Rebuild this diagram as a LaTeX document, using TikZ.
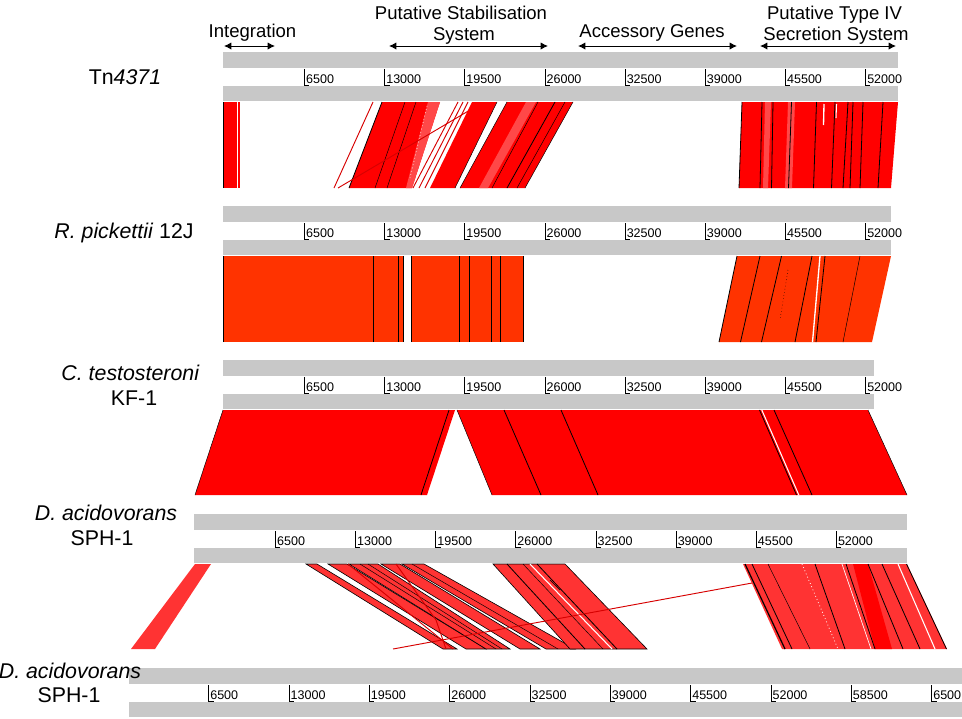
\documentclass[tikz,border=0pt]{standalone}
\usepackage{fontspec}
\setmainfont{Liberation Sans}
\usetikzlibrary{arrows.meta}
\definecolor{barg}{RGB}{200,200,200}
\definecolor{rA}{RGB}{255,0,0}
\definecolor{rL}{RGB}{255,72,72}
\definecolor{rO}{RGB}{255,51,0}
\definecolor{rB}{RGB}{255,51,51}
\definecolor{rD}{RGB}{215,0,0}
\tikzset{
 hdr/.style={font=\fontsize{13.9}{16}\selectfont, inner sep=0pt, anchor=base},
 lbl/.style={font=\fontsize{16}{18}\selectfont, inner sep=0pt, anchor=base},
 tk/.style={font=\fontsize{9.4}{11}\selectfont, inner sep=0pt, anchor=base west},
 tickln/.style={draw=black, line width=0.5pt},
 blk/.style={draw=black, line width=0.6pt},
 thinblk/.style={draw=black, line width=0.35pt},
 wht/.style={draw=white, line width=0.6pt},
 thinred/.style={draw=rD, line width=0.7pt},
 hdrarr/.style={draw=black, line width=0.75pt, {Latex[length=5.5pt,width=5.5pt]}-{Latex[length=5.5pt,width=5.5pt]}},
 stripe/.style={fill=rB, draw=black, line width=0.45pt},
}
\newcommand\trk[7]{%
 \fill[barg] (#2,#4) rectangle (#3,#4+16);
 \fill[barg] (#2,#4+34) rectangle (#3,#4+49);
 \foreach \k/\lab in {#7}{%
   \pgfmathsetmacro\tx{#5+#6*\k}%
   \draw[tickln] (\tx,#4+17) -- (\tx,#4+33) -- (\tx+5,#4+33);
   \node[tk] (#1\k) at (\tx+1.5,#4+31) {\lab};
 }%
}
\begin{document}
\begin{tikzpicture}[x=0.75pt,y=-0.75pt]
\useasboundingbox (0,0) rectangle (962,718);
\fill[white] (0,0) rectangle (962,718);

% ---------- header ----------
\node[hdr] (hInt) at (252.5,37.5) {Integration};
\node[hdr] (hPS1) at (461,19.5) {Putative Stabilisation};
\node[hdr] (hPS2) at (464,40) {System};
\node[hdr] (hAcc) at (652,37.5) {Accessory Genes};
\node[hdr] (hT41) at (834.5,19.5) {Putative Type IV};
\node[hdr] (hT42) at (836,40) {Secretion System};
\coordinate (a1l) at (224,46); \coordinate (a1r) at (275,46);
\coordinate (a2l) at (389,46); \coordinate (a2r) at (548,46);
\coordinate (a3l) at (578,46); \coordinate (a3r) at (737,46);
\coordinate (a4l) at (760,46); \coordinate (a4r) at (896,46);
\draw[hdrarr] (a1l) -- (a1r);
\draw[hdrarr] (a2l) -- (a2r);
\draw[hdrarr] (a3l) -- (a3r);
\draw[hdrarr] (a4l) -- (a4r);

% ---------- tracks ----------
\trk{ta}{223}{898}{52}{224.2}{80.16}{1/6500,2/13000,3/19500,4/26000,5/32500,6/39000,7/45500,8/52000}
\trk{tb}{223}{891}{206}{224.2}{80.16}{1/6500,2/13000,3/19500,4/26000,5/32500,6/39000,7/45500,8/52000}
\trk{tc}{223}{874}{360}{224.2}{80.16}{1/6500,2/13000,3/19500,4/26000,5/32500,6/39000,7/45500,8/52000}
\trk{td}{194}{907}{514}{195.2}{80.13}{1/6500,2/13000,3/19500,4/26000,5/32500,6/39000,7/45500,8/52000}
\trk{te}{129}{962}{668}{128.2}{80.33}{1/6500,2/13000,3/19500,4/26000,5/32500,6/39000,7/45500,8/52000,9/58500,10/6500}

% ---------- track labels ----------
\node[lbl] (lTn) at (125,84.5) {Tn\textit{4371}};
\node[lbl] (lRp) at (124,238) {\textit{R. pickettii} 12J};
\node[lbl] (lCt) at (130.5,380) {\textit{C. testosteroni}};
\node[lbl] (lCt2) at (134,405) {KF-1};
\node[lbl] (lDa) at (106,520) {\textit{D. acidovorans}};
\node[lbl] (lDa2) at (102,545) {SPH-1};
\node[lbl] (lDb) at (70,678) {\textit{D. acidovorans}};
\node[lbl] (lDb2) at (69,702) {SPH-1};

% ---------- band 1 : Tn4371 -> R. pickettii ----------
\fill[rA] (223,102) rectangle (240,188);
\draw[blk] (223.4,102) -- (223.4,188);
\draw[wht] (237.5,102) -- (237.5,188);
\draw[thinred] (373,102) -- (334,188);
\fill[rA] (382,102) -- (440,102) -- (412,188) -- (349,188) -- cycle;
\fill[rL] (428,102) -- (440,102) -- (412,188) -- (406,188) -- cycle;
\draw[blk] (382,102) -- (349,188);
\draw[thinblk] (405,102) -- (375,188);
\draw[thinblk] (416,102) -- (387,188);
\draw[white, line width=0.5pt, dotted] (427,106) -- (410,178);
\draw[thinred] (458,102) -- (413,188);
\draw[thinred] (463,102) -- (419,188);
\draw[thinred] (468,102) -- (425,188);
\draw[thinred] (470,110) -- (338,188);
\fill[rA] (472,102) -- (497,102) -- (455,188) -- (430,188) -- cycle;
\draw[thinblk] (497,102) -- (455,188);
\fill[rA] (507,102) -- (573,102) -- (525,188) -- (460,188) -- cycle;
\fill[rL] (526,102) -- (536,102) -- (488,188) -- (479,188) -- cycle;
\draw[thinblk] (507,102) -- (460,188);
\draw[thinblk] (538,102) -- (492,188);
\draw[blk] (555,102) -- (507,188);
\draw[thinblk] (565,102) -- (517,188);
\draw[thinblk] (573,102) -- (525,188);
\fill[rA] (742,102) -- (898,102) -- (891,188) -- (739,188) -- cycle;
\fill[rL] (765,102) -- (771,102) -- (768,188) -- (763,188) -- cycle;
\fill[rL] (788,102) -- (795,102) -- (792,188) -- (785,188) -- cycle;
\draw[blk] (742,102) -- (739,188);
\foreach \a/\b in {762/760,773/771.5,791.5/788.5,816.5/813.5,835/831.5,848/843,853/850,863/860,883/878}
  \draw[blk] (\a,102) -- (\b,188);
\draw[white, line width=1pt] (824,104) -- (823.5,125);
\draw[white, line width=0.8pt] (836.5,104) -- (836,118);

% ---------- band 2 : R. pickettii -> C. testosteroni ----------
\fill[rO] (223,256) rectangle (404,342);
\fill[rO] (411,256) rectangle (524,342);
\foreach \a in {223.4,373,398.5,403.5,411.5,459,469,491,500.5,523.5}
  \draw[blk] (\a,256) -- (\a,342);
\fill[rO] (737,256) -- (891,256) -- (872,342) -- (719,342) -- cycle;
\draw[blk] (737,256) -- (719,342);
\draw[blk] (760,256) -- (740.5,342);
\draw[blk] (781.5,256) -- (761.5,342);
\draw[black, line width=0.4pt, dotted] (788,270) -- (780,320);
\draw[blk] (812,256) -- (795,342);
\draw[white, line width=1pt] (820,256) -- (812.5,342);
\draw[blk] (825,256) -- (816,342);
\draw[thinblk] (860,256) -- (843,342);

% ---------- band 3 : C. testosteroni -> D. acidovorans ----------
\fill[rA] (223,410) -- (455,410) -- (427,495) -- (195,495) -- cycle;
\draw[thinblk] (223,410) -- (195,495);
\draw[blk] (449,410) -- (421,495);
\fill[rA] (457,410) -- (868,410) -- (907,495) -- (492,495) -- cycle;
\draw[thinblk] (457,410) -- (492,495);
\draw[blk] (504,410) -- (541,495);
\draw[blk] (561,410) -- (598,495);
\draw[blk] (759.5,410) -- (796.5,495);
\draw[white, line width=0.8pt] (761.8,410) -- (798.8,495);
\draw[blk] (774,410) -- (812,495);
\draw[thinblk] (868,410) -- (907,495);

% ---------- band 4 : D. acidovorans -> D. acidovorans ----------
\fill[rB] (195,564) -- (211,564) -- (155,649) -- (131,649) -- cycle;
\filldraw[stripe] (306,564) -- (317,564) -- (457,649) -- (443,649) -- cycle;
\filldraw[stripe] (328,564) -- (347,564) -- (486,649) -- (466,649) -- cycle;
\filldraw[stripe] (349,564) -- (378,564) -- (510,649) -- (486,649) -- cycle;
\filldraw[stripe] (381,564) -- (400,564) -- (540,649) -- (520,649) -- cycle;
\filldraw[stripe] (402,564) -- (424,564) -- (575,649) -- (546,649) -- cycle;
\draw[thinblk] (360,564) -- (496,649);
\draw[thinblk] (368,564) -- (502,649);
\draw[thinblk] (412,564) -- (558,649);
\draw[thinred] (348,564) -- (453,649);
\draw[thinred] (396,564) -- (436,620) -- (446,649);
\filldraw[stripe] (493,564) -- (565,564) -- (647,649) -- (570,649) -- cycle;
\draw[blk] (507,564) -- (585,649);
\draw[thinblk] (523,564) -- (603,649);
\draw[white, line width=0.8pt] (530,564) -- (612,649);
\draw[blk] (537,564) -- (617,649);
\draw[thinblk] (550,580) -- (560,590);
\fill[rB] (743,564) -- (907,564) -- (947,649) -- (782,649) -- cycle;
\fill[rA] (853,564) -- (868,564) -- (892,649) -- (875,649) -- cycle;
\draw[black, line width=0.9pt] (745,564) -- (785,649);
\draw[blk] (752,564) -- (792,649);
\draw[thinblk] (768,564) -- (810,649);
\draw[white, line width=0.6pt, dotted] (802,564) -- (838,649);
\draw[blk] (815,564) -- (845,649);
\draw[white, line width=0.5pt] (842,564) -- (871,649);
\draw[blk] (846,564) -- (875,649);
\draw[blk] (868,564) -- (903,649);
\draw[blk] (882,564) -- (920,649);
\draw[white, line width=0.8pt] (898,564) -- (935,649);
\draw[blk] (906.5,564) -- (946.5,649);
\draw[thinred] (393,649) -- (752,583);
\end{tikzpicture}
\end{document}
